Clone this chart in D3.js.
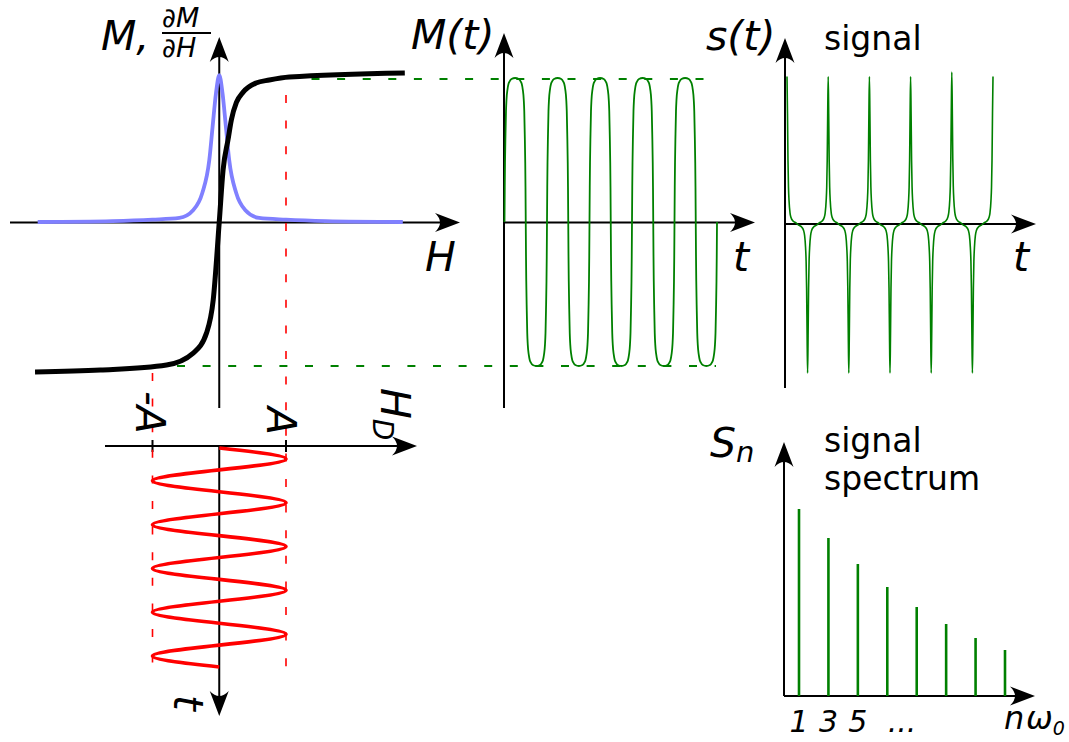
<!DOCTYPE html>
<html>
<head>
<meta charset="utf-8">
<script src="https://cdn.jsdelivr.net/npm/d3@7"></script>
<style>
  html,body{margin:0;padding:0;background:#fff;}
  svg{display:block;}
  text{font-family:"DejaVu Sans",Verdana,sans-serif;fill:#000;}
  .lbl{font-style:italic;font-size:41px;}
  .word{font-size:33px;}
</style>
</head>
<body>
<div id="chart"></div>
<script>
// ---- values ----

// magnetisation curve M(H): H in units of drive amplitude A, M in units of M(A)
var curveH = [-2.76,-1.78,-0.79,-0.39,-0.19,-0.09,0,0.057,0.131,0.182,0.257,0.355,0.55,0.75,1.05,2.78];
var curveM = [-1.042,-1.028,-0.993,-0.91,-0.77,-0.54,0,0.36,0.57,0.71,0.83,0.90,0.965,0.986,1.007,1.035];

// its derivative dM/dH (blue), same H units
var derivH = [-2.72,-1.6,-1.0,-0.597,-0.388,-0.254,-0.149,-0.1,-0.049,0,0.049,0.1,0.149,0.254,0.388,0.597,1.0,1.6,2.75];
var derivV = [0,0.006,0.016,0.028,0.083,0.201,0.43,0.66,0.894,1.02,0.894,0.66,0.43,0.201,0.083,0.028,0.016,0.006,0];

// drive field H_D(t), sampled every quarter period (t in periods)
var driveT = [0,0.25,0.5,0.75,1,1.25,1.5,1.75,2,2.25,2.5,2.75,3,3.25,3.5,3.75,4,4.25,4.5,4.75,5];
var driveH = [0,1,0,-1,0,1,0,-1,0,1,0,-1,0,1,0,-1,0,1,0,-1,0];

// M(t): zero crossings (periods), sign of each lobe, and the shape of one lobe
var mtCrossings = [0,0.5,1,1.5,2,2.5,3,3.5,4,4.5,5];
var mtLobeSign = [1,-1,1,-1,1,-1,1,-1,1,-1];
var lobeU = [0,0.012,0.024,0.047,0.07,0.094,0.14,0.19,0.235,0.33,0.5,0.67,0.765,0.81,0.86,0.906,0.93,0.953,0.976,0.988,1];
var lobeM = [0,0.24,0.41,0.61,0.77,0.85,0.92,0.96,0.975,0.993,1,0.993,0.975,0.96,0.92,0.85,0.77,0.61,0.41,0.24,0];

// signal s(t): spike times, spike heights and the shape of one spike
var spikeT = [0,0.5,1,1.5,2,2.5,3,3.5,4,4.5,5];
var spikeAmp = [0.99,-1,0.99,-1,0.99,-1,0.99,-1,1.02,-1,0.99];
var spikeOff = [-0.218,-0.146,-0.097,-0.073,-0.049,-0.036,-0.024,-0.012,0,0.012,0.024,0.036,0.049,0.073,0.097,0.146,0.218];
var spikeShape = [0.008,0.02,0.044,0.076,0.16,0.25,0.43,0.75,1,0.75,0.43,0.25,0.16,0.076,0.044,0.02,0.008];

// spectrum S_n of the odd harmonics
var harmonics = [1,3,5,7,9,11,13,15];
var spectrum = [187,158,132,109,89,72,58,46];
var specTickN = [1,3,5,8];
var specTickText = ["1","3","5","..."];

// ---- layout ----
var width = 1069, height = 742;
var axisWidth = 2, arrowLen = 25, arrowWid = 19;
var green = '#008000', red = '#ff0000', blue = '#8080ff';

var xH = d3.scaleLinear().domain([-1,1]).range([152.5,286]);
var yM = d3.scaleLinear().domain([-1,1]).range([366,78]);
var yDrive = d3.scaleLinear().domain([0,5]).range([448,667]);
var xMt = d3.scaleLinear().domain([0,5]).range([504.5,717]);
var xS = d3.scaleLinear().domain([0,5]).range([787,993]);
var yS = d3.scaleLinear().domain([-1,1]).range([373,75]);
var xN = d3.scaleLinear().domain([1,15]).range([799,1005]);
var ySn = d3.scaleLinear().domain([0,200]).range([696,496]);

var svg = d3.select('#chart').append('svg')
  .attr('width',width).attr('height',height);

var axes = svg.append('g');
var guides = svg.append('g');
var marks = svg.append('g');
var labels = svg.append('g');

//axis line with a filled arrow head at the (x2,y2) end
function arrowAxis(x1,y1,x2,y2){
  var ang = Math.atan2(y2-y1,x2-x1)*180/Math.PI;
  var len = Math.sqrt((x2-x1)*(x2-x1)+(y2-y1)*(y2-y1));
  var g = axes.append('g')
    .attr('transform','translate('+x1+','+y1+') rotate('+ang+')');
  g.append('line')
    .attr('x1',0).attr('y1',0)
    .attr('x2',len-arrowLen*0.6).attr('y2',0)
    .attr('stroke','#000').attr('stroke-width',axisWidth);
  g.append('path')
    .attr('d','M'+len+',0 L'+(len-arrowLen)+','+(-arrowWid/2)+
      ' Q'+(len-arrowLen*0.6)+',0 '+(len-arrowLen)+','+(arrowWid/2)+' Z')
    .attr('fill','#000');
}

function dashed(x1,y1,x2,y2,color,w){
  guides.append('line')
    .attr('x1',x1).attr('y1',y1).attr('x2',x2).attr('y2',y2)
    .attr('stroke',color).attr('stroke-width',w)
    .attr('stroke-dasharray','8,17.6');
}

function rotLabel(x,y,size){
  return labels.append('text')
    .attr('class','lbl')
    .style('font-size',size+'px')
    .attr('transform','translate('+x+','+y+') rotate(90)');
}

// ---- axes ----
arrowAxis(10,yM(0)+0.5,460,yM(0)+0.5);
arrowAxis(xH(0),408,xH(0),37);
arrowAxis(105,446,417,446);
arrowAxis(xH(0),446,xH(0),716);
arrowAxis(xMt(0)-0.5,408,xMt(0)-0.5,33);
arrowAxis(xMt(0)-0.5,yM(0)+0.5,755,yM(0)+0.5);
arrowAxis(785,388,785,38);
arrowAxis(785,yS(0),1036,yS(0));
arrowAxis(784,696,784,442);
arrowAxis(784,696,1035,696);

// ticks at -A and A on the drive axis
[-1,1].forEach(function(a){
  axes.append('line')
    .attr('x1',xH(a)).attr('x2',xH(a))
    .attr('y1',440).attr('y2',452)
    .attr('stroke','#000').attr('stroke-width',axisWidth);
});

// ---- guide lines ----
dashed(xH(1),95,xH(1),667,red,1.6);
dashed(xH(-1),373,xH(-1),667,red,1.6);
dashed(311.5,yM(1)+1,705,yM(1)+1,green,2);
dashed(177,yM(-1),716,yM(-1),green,2);

// ---- panel 1: M(H) and dM/dH ----
var derivLine = d3.line()
  .x(function(d,i){ return xH(derivH[i]); })
  .y(function(d,i){ return yM(derivV[i]); })
  .curve(d3.curveMonotoneX);
marks.append('path')
  .attr('d',derivLine(derivH))
  .attr('fill','none').attr('stroke',blue).attr('stroke-width',3.8);

var magLine = d3.line()
  .x(function(d,i){ return xH(curveH[i]); })
  .y(function(d,i){ return yM(curveM[i]); })
  .curve(d3.curveMonotoneX);
marks.append('path')
  .attr('d',magLine(curveH))
  .attr('fill','none').attr('stroke','#000').attr('stroke-width',5);

// ---- drive field (time runs downward) ----
var driveLine = d3.line()
  .x(function(d,i){ return xH(driveH[i]); })
  .y(function(d,i){ return yDrive(driveT[i]); })
  .curve(d3.curveNatural);
marks.append('path')
  .attr('d',driveLine(driveT))
  .attr('fill','none').attr('stroke',red).attr('stroke-width',3.6);

// ---- panel 2: M(t) ----
var mtPts = [];
mtLobeSign.forEach(function(sgn,i){
  var t0 = mtCrossings[i], t1 = mtCrossings[i+1];
  lobeU.forEach(function(u,j){
    if(i>0 && j==0) return;
    mtPts.push([t0+u*(t1-t0), sgn*lobeM[j]]);
  });
});
marks.append('path')
  .attr('d',d3.line()
    .x(function(d){ return xMt(d[0]); })
    .y(function(d){ return yM(d[1]); })
    .curve(d3.curveMonotoneX)(mtPts))
  .attr('fill','none').attr('stroke',green).attr('stroke-width',1.8);

// ---- panel 3: s(t) ----
var sigPts = [];
spikeT.forEach(function(t0,i){
  spikeOff.forEach(function(o,j){
    var t = t0+o;
    if(t<0 || t>5) return;
    sigPts.push([t, spikeAmp[i]*spikeShape[j]]);
  });
});
marks.append('path')
  .attr('d',d3.line()
    .x(function(d){ return xS(d[0]); })
    .y(function(d){ return yS(d[1]); })
    .curve(d3.curveMonotoneX)(sigPts))
  .attr('fill','none').attr('stroke',green).attr('stroke-width',1.6);

// ---- panel 4: spectrum ----
marks.selectAll('.bar')
  .data(harmonics)
  .enter()
  .append('line')
  .attr('class','bar')
  .attr('x1',function(d){ return xN(d); })
  .attr('x2',function(d){ return xN(d); })
  .attr('y1',ySn(0))
  .attr('y2',function(d,i){ return ySn(spectrum[i]); })
  .attr('stroke',green).attr('stroke-width',2.6);

labels.selectAll('.spectick')
  .data(specTickN)
  .enter()
  .append('text')
  .attr('class','lbl spectick')
  .style('font-size','30px')
  .attr('text-anchor','middle')
  .attr('x',function(d){ return xN(d); })
  .attr('y',732)
  .text(function(d,i){ return specTickText[i]; });

// ---- labels ----
labels.append('text').attr('class','lbl').attr('x',101).attr('y',50).text('M,');
labels.append('text').attr('class','lbl').style('font-size','27px').attr('x',162).attr('y',27).text('\u2202M');
labels.append('line').attr('x1',162).attr('x2',211).attr('y1',33).attr('y2',33)
  .attr('stroke','#000').attr('stroke-width',1.8);
labels.append('text').attr('class','lbl').style('font-size','27px').attr('x',162).attr('y',57).text('\u2202H');

labels.append('text').attr('class','lbl').attr('x',425).attr('y',271).text('H');
labels.append('text').attr('class','lbl').attr('x',411).attr('y',49).text('M(t)');
labels.append('text').attr('class','lbl').attr('x',733).attr('y',271).text('t');
labels.append('text').attr('class','lbl').attr('x',706).attr('y',50).text('s(t)');
labels.append('text').attr('class','word').attr('x',824).attr('y',50).text('signal');
labels.append('text').attr('class','lbl').attr('x',1013).attr('y',271).text('t');

var sn = labels.append('text').attr('class','lbl').attr('x',710).attr('y',457);
sn.append('tspan').text('S');
sn.append('tspan').style('font-size','29px').attr('dy',5).text('n');
labels.append('text').attr('class','word').attr('x',824).attr('y',452).text('signal');
labels.append('text').attr('class','word').attr('x',824).attr('y',490).text('spectrum');

var nw = labels.append('text').attr('class','lbl').style('font-size','32px').attr('x',1004).attr('y',729);
nw.append('tspan').text('n');
nw.append('tspan').attr('x',1026).text('\u03c9');
nw.append('tspan').style('font-size','19px').attr('dy',6).text('0');

// rotated labels of the drive field panel
rotLabel(136,391,41).text('-A');
rotLabel(267,407,41).text('A');
var hd = rotLabel(381,388,41);
hd.append('tspan').text('H');
hd.append('tspan').style('font-size','28px').attr('dy',8).text('D');
rotLabel(174,695,40).text('t');
</script>
</body>
</html>
